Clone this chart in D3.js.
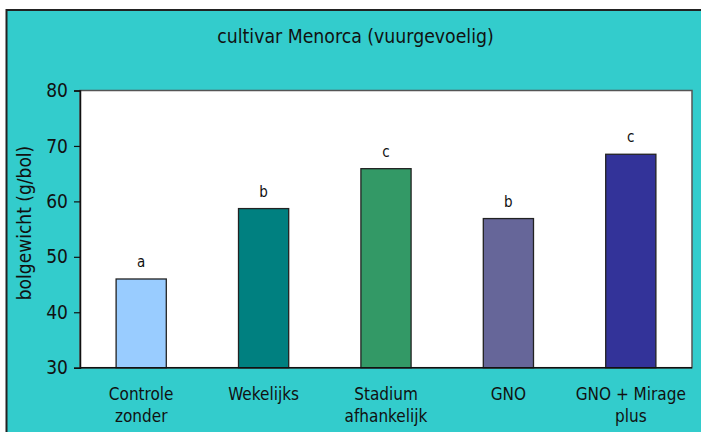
<!DOCTYPE html>
<html>
<head>
<meta charset="utf-8">
<script src="https://cdn.jsdelivr.net/npm/d3@7"></script>
<style>
  body { margin: 0; background: #fff; }
  text { font-family: "Liberation Sans Narrow", "Arial Narrow", "DejaVu Sans Condensed", sans-serif; fill: #111; }
</style>
</head>
<body>
<div id="chart"></div>
<script>
let categories = [["Controle", "zonder"], ["Wekelijks"], ["Stadium", "afhankelijk"], ["GNO"], ["GNO + Mirage", "plus"]]
let values = [46.0, 58.7, 65.9, 56.9, 68.5]
let letters = ["a", "b", "c", "b", "c"]
let colors = ["#99CCFF", "#008080", "#339966", "#666699", "#333399"]
let yTicks = [30, 40, 50, 60, 70, 80]

let W = 701, H = 432
let plot = {left: 80, right: 692, top: 90.5, bottom: 367.7}

let svg = d3.select('#chart')
  .append('svg')
  .attr('width', W)
  .attr('height', H)

// turquoise frame
svg.append('rect')
  .attr('x', 6.5).attr('y', 10)
  .attr('width', W).attr('height', H)
  .attr('fill', '#33CCCC')
svg.append('path')
  .attr('d', `M 6.5 ${H} V 10 H ${W}`)
  .attr('fill', 'none')
  .attr('stroke', '#222')
  .attr('stroke-width', 2)

svg.append('text')
  .attr('x', 355.5)
  .attr('y', 43)
  .attr('text-anchor', 'middle')
  .style('font-size', '19.3px')
  .text('cultivar Menorca (vuurgevoelig)')

let idx = d3.range(values.length)
let x = d3.scaleBand()
  .domain(idx)
  .range([plot.left, plot.right])
  .paddingInner(0.59)
  .paddingOuter(0.295)

let y = d3.scaleLinear()
  .domain([30, 80])
  .range([plot.bottom, plot.top])

// plot area
svg.append('rect')
  .attr('x', plot.left).attr('y', plot.top)
  .attr('width', plot.right - plot.left)
  .attr('height', plot.bottom - plot.top)
  .attr('fill', '#fff')
  .attr('stroke', '#555')
  .attr('stroke-width', 1.5)

svg.append('g')
  .selectAll('rect')
  .data(idx)
  .join('rect')
  .attr('x', i => x(i))
  .attr('y', i => y(values[i]))
  .attr('width', x.bandwidth())
  .attr('height', i => y(30) - y(values[i]))
  .attr('fill', i => colors[i])
  .attr('stroke', '#222')
  .attr('stroke-width', 1.3)

svg.append('g')
  .selectAll('text')
  .data(idx)
  .join('text')
  .attr('x', i => x(i) + x.bandwidth() / 2)
  .attr('y', i => y(values[i]) - 12)
  .attr('text-anchor', 'middle')
  .style('font-size', '15px')
  .text(i => letters[i])

// y axis
let yAxis = svg.append('g')
  .attr('transform', `translate(${plot.left},0)`)
  .call(d3.axisLeft(y).tickValues(yTicks).tickSize(6).tickPadding(6))
yAxis.select('.domain').attr('stroke', '#111').attr('stroke-width', 1.5)
yAxis.selectAll('.tick line').attr('stroke', '#111').attr('stroke-width', 1.2)
yAxis.selectAll('.tick text')
  .style('font-size', '19px')
  .style('font-family', '"Liberation Sans Narrow", "Arial Narrow", "DejaVu Sans Condensed", sans-serif')
  .attr('fill', '#111')

// x axis line
svg.append('line')
  .attr('x1', plot.left).attr('x2', plot.right)
  .attr('y1', plot.bottom).attr('y2', plot.bottom)
  .attr('stroke', '#111')
  .attr('stroke-width', 1.5)

// x labels
let xl = svg.append('g')
  .selectAll('text')
  .data(idx)
  .join('text')
  .attr('x', i => x(i) + x.bandwidth() / 2)
  .attr('y', 400)
  .attr('text-anchor', 'middle')
  .style('font-size', '17px')
xl.selectAll('tspan')
  .data(i => categories[i].map(s => ({s, cx: x(i) + x.bandwidth() / 2})))
  .join('tspan')
  .attr('x', d => d.cx)
  .attr('dy', (d, j) => j ? 22 : 0)
  .text(d => d.s)

svg.append('text')
  .attr('transform', 'translate(31,223) rotate(-90)')
  .attr('text-anchor', 'middle')
  .style('font-size', '19px')
  .text('bolgewicht (g/bol)')
</script>
</body>
</html>
